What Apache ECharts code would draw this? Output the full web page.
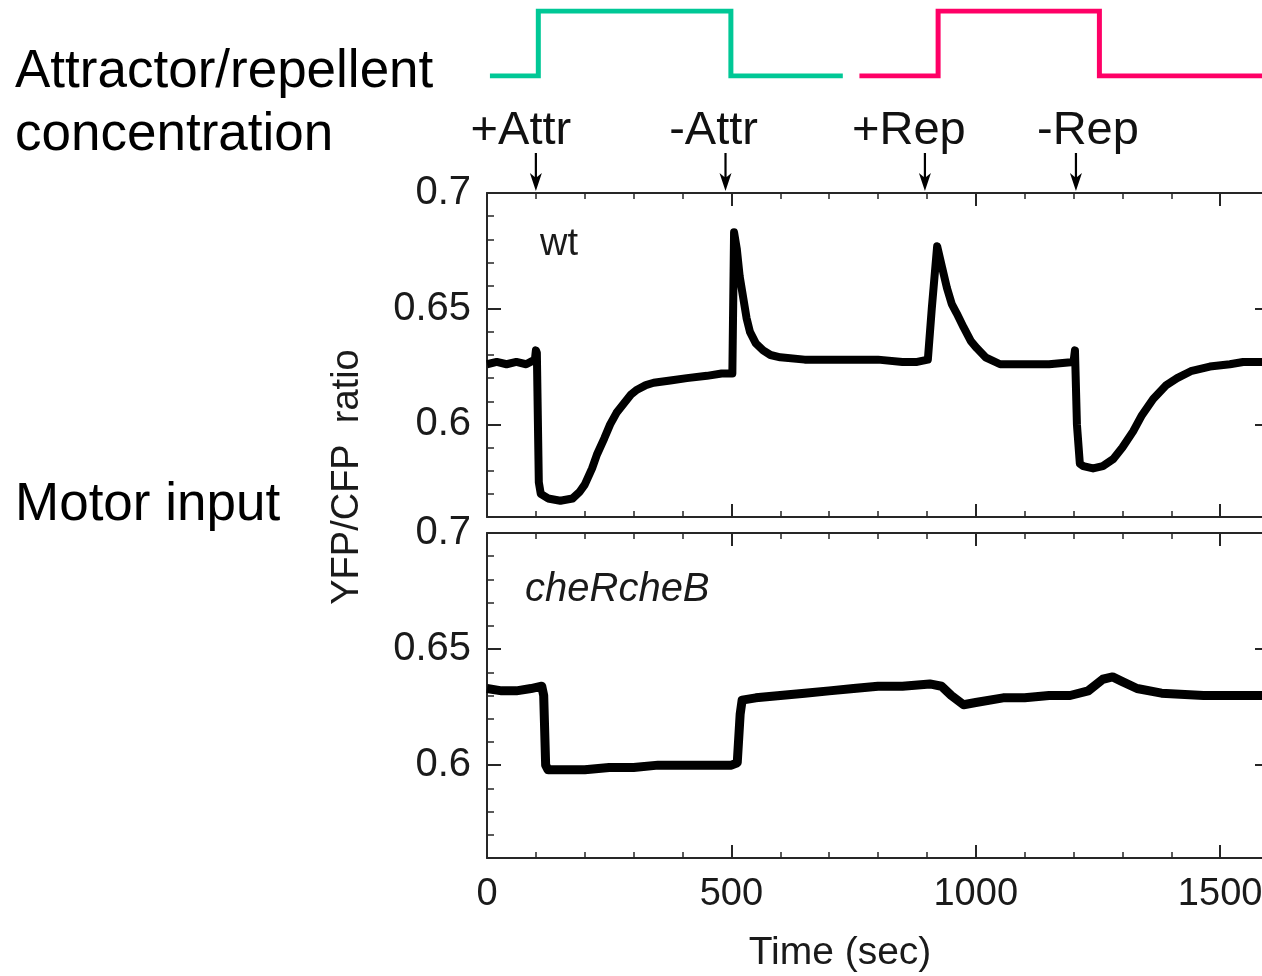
<!DOCTYPE html>
<html><head><meta charset="utf-8">
<script src="https://cdn.jsdelivr.net/npm/echarts@6/dist/echarts.min.js"></script>
<style>html,body{margin:0;padding:0;background:#fff}#c{width:1262px;height:976px}</style>
</head><body><div id="c"></div>
<script>
// ---------- data ----------
const wtTime  = [0,20,40,60,80,98,100,102,106,110,125,150,175,190,200,215,225,240,252,265,280,295,307,325,341,375,409,450,480,502,505.5,511,517,524,531,538,550,565,580,600,650,700,750,800,850,880,902,910,921,931,941,951,961,975,990,1002,1020,1050,1100,1150,1200,1203,1207,1213,1220,1240,1260,1281,1300,1322,1340,1363,1390,1412,1440,1479,1520,1547,1600];
const wtRatio = [0.626,0.627,0.626,0.627,0.626,0.628,0.632,0.631,0.575,0.570,0.568,0.567,0.568,0.571,0.574,0.581,0.587,0.594,0.600,0.605,0.609,0.613,0.615,0.617,0.618,0.619,0.620,0.621,0.622,0.622,0.683,0.676,0.664,0.655,0.646,0.640,0.635,0.632,0.630,0.629,0.628,0.628,0.628,0.628,0.627,0.627,0.628,0.650,0.677,0.668,0.659,0.652,0.648,0.642,0.636,0.633,0.629,0.626,0.626,0.626,0.627,0.632,0.600,0.583,0.582,0.581,0.582,0.585,0.590,0.597,0.604,0.611,0.617,0.620,0.623,0.625,0.626,0.627,0.627];

const cheTime  = [0,30,60,90,112,116,120,125,150,200,250,300,350,400,450,500,512,518,522,550,600,650,700,750,800,850,906,930,950,975,1000,1056,1100,1150,1193,1230,1260,1280,1300,1330,1380,1466,1530,1600];
const cheRatio = [0.633,0.632,0.632,0.633,0.634,0.630,0.600,0.598,0.598,0.598,0.599,0.599,0.600,0.600,0.600,0.600,0.601,0.622,0.628,0.629,0.630,0.631,0.632,0.633,0.634,0.634,0.635,0.634,0.630,0.626,0.627,0.629,0.629,0.630,0.630,0.632,0.637,0.638,0.636,0.633,0.631,0.630,0.630,0.630];

const arrowTimes  = [100, 488, 896, 1205];
const arrowLabels = ['+Attr', '-Attr', '+Rep', '-Rep'];

const attrStepTime  = [6, 105, 105, 499, 499, 728];
const attrStepLevel = [0, 0, 1, 1, 0, 0];
const repStepTime   = [762, 923, 923, 1253, 1253, 1600];
const repStepLevel  = [0, 0, 1, 1, 0, 0];

const xTickLabels = [0, 500, 1000, 1500];
const yTickLabels = [0.6, 0.65, 0.7];
const xMin = 0, xMax = 1600, xMinor = 100;
const yMin = 0.56, yMax = 0.7, yMinor = 0.01;

// ---------- styles ----------
const FONT = '"Liberation Sans", Arial, Helvetica, sans-serif';
const AX = '#262626';
const LBL = '#1a1a1a';
const labelDx = [-15, -12, -16, 12];
const ARROW = 'path://M4.9,0 L7.1,0 L7.1,24 L12,20 L6,38 L0,20 L4.9,24 Z';

const chart = echarts.init(document.getElementById('c'), null, {renderer: 'canvas'});

const grids = [
  {left: 487, top: 193, width: 782, height: 324, containLabel: false, outerBoundsMode: 'none'},
  {left: 487, top: 533, width: 782, height: 325, containLabel: false, outerBoundsMode: 'none'},
  {left: 487, top: 11,  width: 782, height: 65,  containLabel: false, outerBoundsMode: 'none'}
];

const xAxes = [], yAxes = [];
function addFrame(g, showXLabels) {
  const xb = {gridIndex: g, type: 'value', min: xMin, max: xMax, splitLine: {show: false}};
  const yb = {gridIndex: g, type: 'value', min: yMin, max: yMax, splitLine: {show: false}};
  const line = {show: true, onZero: false, lineStyle: {color: AX, width: 2}};
  ['bottom', 'top'].forEach((pos) => {
    xAxes.push(Object.assign({}, xb, {position: pos, interval: xMinor, axisLine: line,
      axisTick: {show: true, inside: true, length: 6, lineStyle: {color: AX, width: 1.5}}, axisLabel: {show: false}}));
    xAxes.push(Object.assign({}, xb, {position: pos, axisLine: {show: false, onZero: false},
      axisTick: {show: true, inside: true, length: 13, customValues: xTickLabels, lineStyle: {color: AX, width: 2}},
      axisLabel: {show: showXLabels && pos === 'bottom', customValues: xTickLabels, margin: 18,
        formatter: v => String(v), fontSize: 38, color: LBL, fontFamily: FONT}}));
  });
  ['left', 'right'].forEach((pos) => {
    yAxes.push(Object.assign({}, yb, {position: pos, interval: yMinor, axisLine: line,
      axisTick: {show: true, inside: true, length: 7, lineStyle: {color: AX, width: 1.5}}, axisLabel: {show: false}}));
    yAxes.push(Object.assign({}, yb, {position: pos, axisLine: {show: false, onZero: false},
      axisTick: {show: true, inside: true, length: 14, customValues: yTickLabels, lineStyle: {color: AX, width: 2}},
      axisLabel: {show: pos === 'left', customValues: yTickLabels, margin: 16,
        formatter: v => String(v), fontSize: 40, color: LBL, fontFamily: FONT}}));
  });
}
addFrame(0, false); // x 0..3, y 0..3
addFrame(1, true);  // x 4..7, y 4..7
xAxes.push({gridIndex: 2, type: 'value', min: xMin, max: xMax, show: false});
yAxes.push({gridIndex: 2, type: 'value', min: 0, max: 1, show: false});

const pairs = (a, b) => a.map((t, i) => [t, b[i]]);

const option = {
  animation: false,
  backgroundColor: '#fff',
  grid: grids,
  xAxis: xAxes,
  yAxis: yAxes,
  series: [
    {type: 'line', name: 'wt', xAxisIndex: 0, yAxisIndex: 0, data: pairs(wtTime, wtRatio),
      symbol: 'none', lineStyle: {color: '#000', width: 8, join: 'round'}, z: 5},
    {type: 'line', name: 'cheRcheB', xAxisIndex: 4, yAxisIndex: 4, data: pairs(cheTime, cheRatio),
      symbol: 'none', lineStyle: {color: '#000', width: 9, join: 'round'}, z: 5},
    {type: 'scatter', name: 'events', xAxisIndex: 0, yAxisIndex: 0, clip: false,
      data: arrowTimes.map((t, i) => ({value: [t, yMax], label: {offset: [labelDx[i], 6]}})),
      symbol: ARROW, symbolSize: [12, 38], symbolOffset: [0, -21], itemStyle: {color: '#000', opacity: 1},
      label: {show: true, position: 'top', distance: 4, formatter: p => arrowLabels[p.dataIndex],
        fontSize: 47, color: '#111', opacity: 1, fontFamily: FONT}, z: 10},
    {type: 'line', name: 'attractor', xAxisIndex: 8, yAxisIndex: 8, data: pairs(attrStepTime, attrStepLevel),
      symbol: 'none', lineStyle: {color: '#00c896', width: 5, join: 'miter'}},
    {type: 'line', name: 'repellent', xAxisIndex: 8, yAxisIndex: 8, data: pairs(repStepTime, repStepLevel),
      symbol: 'none', lineStyle: {color: '#ff0066', width: 5, join: 'miter'}}
  ],
  graphic: [
    {type: 'text', left: 15, top: 46, style: {text: 'Attractor/repellent', fontSize: 53, fontFamily: FONT, fill: '#000'}},
    {type: 'text', left: 15, top: 109, style: {text: 'concentration', fontSize: 53, fontFamily: FONT, fill: '#000'}},
    {type: 'text', left: 15, top: 479, style: {text: 'Motor input', fontSize: 53, fontFamily: FONT, fill: '#000'}},
    {type: 'text', x: 540, y: 245, style: {text: 'wt', fontSize: 38, fontFamily: FONT, fill: LBL, textVerticalAlign: 'middle'}},
    {type: 'text', x: 525, y: 590, style: {text: 'cheRcheB', fontSize: 40, fontStyle: 'italic', fontFamily: FONT, fill: LBL, textVerticalAlign: 'middle'}},
    {type: 'text', x: 348, y: 477, rotation: Math.PI / 2,
      style: {text: 'YFP/CFP  ratio', fontSize: 38, fontFamily: FONT, fill: LBL, textAlign: 'center', textVerticalAlign: 'middle'}},
    {type: 'text', x: 840, y: 953,
      style: {text: 'Time (sec)', fontSize: 39, fontFamily: FONT, fill: LBL, textAlign: 'center', textVerticalAlign: 'middle'}}
  ]
};
chart.setOption(option);
</script>
</body></html>
